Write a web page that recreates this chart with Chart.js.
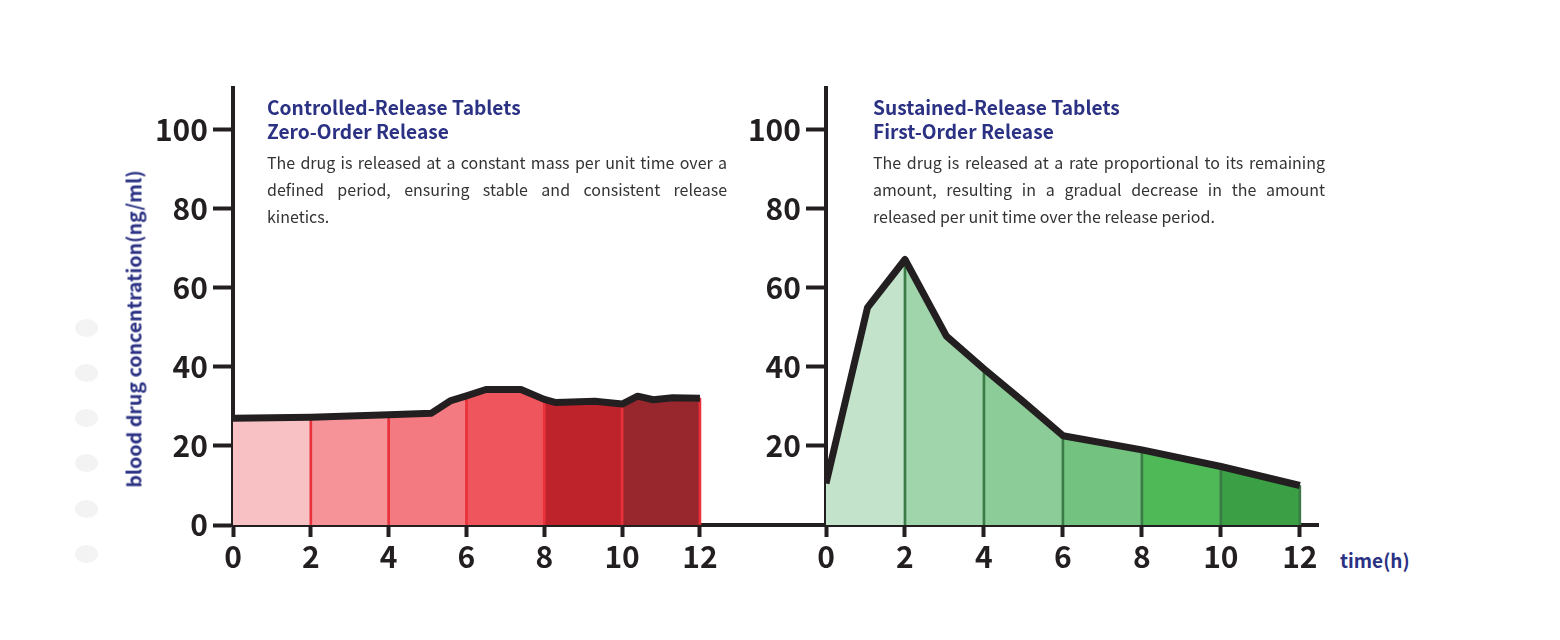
<!DOCTYPE html>
<html>
<head>
<meta charset="utf-8">
<script src="https://cdn.jsdelivr.net/npm/chart.js@4.4.1/dist/chart.umd.min.js"></script>
<style>
  html, body { margin: 0; padding: 0; background: #fff; }
  body { width: 1560px; height: 640px; position: relative; overflow: hidden; font-family: "Noto Sans CJK SC", "Noto Sans", sans-serif; }
  .box { position: absolute; top: 0; height: 640px; }
  #boxA { left: 0; width: 826px; }
  #boxB { left: 700px; width: 640px; }
  .panel { position: absolute; color: #333; z-index: 2; }
  .panel h3 { margin: 0; font-size: 19.2px; line-height: 24px; font-weight: 600; color: #2b3183; }
  .panel p { margin: 6px 0 0; font-size: 16px; line-height: 27px; text-align: justify; }
  #panelA { left: 267px; top: 95px; width: 460px; }
  #panelB { left: 873px; top: 95px; width: 452px; }
  #ytitle { position: absolute; left: 133px; top: 329px; transform: translate(-50%, -50%) rotate(-90deg); white-space: nowrap;
            font-size: 19.6px; font-weight: 700; color: #2b3183; }
  #xtitle { position: absolute; left: 1340px; top: 546px; font-size: 19px; font-weight: 700; color: #2b3183; }
  .dot { position: absolute; left: 75px; width: 23px; height: 18px; border-radius: 50%; background: #f3f3f3; }
</style>
</head>
<body>
<div class="dot" style="top:319px"></div>
<div class="dot" style="top:364px"></div>
<div class="dot" style="top:409px"></div>
<div class="dot" style="top:454px"></div>
<div class="dot" style="top:500px"></div>
<div class="dot" style="top:545px"></div>

<div class="box" id="boxA"><canvas id="chartA"></canvas></div>
<div class="box" id="boxB"><canvas id="chartB"></canvas></div>

<div class="panel" id="panelA">
  <h3>Controlled-Release Tablets<br>Zero-Order Release</h3>
  <p>The drug is released at a constant mass per unit time over a defined period, ensuring stable and consistent release kinetics.</p>
</div>
<div class="panel" id="panelB">
  <h3>Sustained-Release Tablets<br>First-Order Release</h3>
  <p>The drug is released at a rate proportional to its remaining amount, resulting in a gradual decrease in the amount released per unit time over the release period.</p>
</div>
<div id="ytitle">blood drug concentration(ng/ml)</div>
<div id="xtitle">time(h)</div>

<script>
const xTicks = [0, 2, 4, 6, 8, 10, 12];
const yTicksLeft = [0, 20, 40, 60, 80, 100];
const yTicksRight = [20, 40, 60, 80, 100];

// controlled-release (zero order)
const crTime = [0, 2, 4, 5.1, 5.6, 6, 6.5, 7.4, 8, 8.3, 9.3, 10, 10.4, 10.8, 11.3, 12];
const crConc = [27, 27.3, 27.9, 28.3, 31.5, 32.7, 34.3, 34.3, 31.8, 31, 31.3, 30.6, 32.6, 31.7, 32.2, 32.1];
const crFills = ['#f8c1c4', '#f59399', '#f27a80', '#ef555c', '#be232c', '#98272d'];

// sustained-release (first order)
const srTime = [0, 1.05, 2, 3.05, 4, 5, 6, 8, 10, 12];
const srConc = [10.5, 55, 67.2, 47.8, 39.5, 31.2, 22.6, 19, 14.8, 10];
const srFills = ['#c3e4cb', '#a0d5ab', '#8ccc98', '#74c280', '#4fb957', '#3a9f45'];

const INK = '#231f20';
const tickFont = { family: '"Noto Sans CJK SC", "Noto Sans", sans-serif', size: 30, weight: 'bold' };

function makeChart(id, times, conc, fills, divColor, xMax, yTicks, pad) {
    const pts = times.map((t, i) => ({ x: t, y: conc[i] }));
    const dividers = pts.filter(p => p.x > 0 && p.x % 2 === 0);

    return new Chart(document.getElementById(id), {
        type: 'line',
        data: {
            datasets: [
                {
                    data: pts,
                    borderColor: INK,
                    borderWidth: 7,
                    borderJoinStyle: 'round',
                    pointRadius: 0,
                    fill: false,
                    tension: 0,
                    order: 0
                },
                {
                    type: 'bar',
                    data: dividers,
                    backgroundColor: divColor,
                    borderWidth: 0,
                    barThickness: 2,
                    order: 1
                },
                {
                    data: pts,
                    borderWidth: 0,
                    pointRadius: 0,
                    fill: 'origin',
                    backgroundColor: fills[0],
                    tension: 0,
                    order: 2,
                    segment: {
                        backgroundColor: ctx => fills[Math.min(fills.length - 1, Math.floor(times[ctx.p0DataIndex] / 2))]
                    }
                }
            ]
        },
        options: {
            responsive: true,
            maintainAspectRatio: false,
            animation: false,
            events: [],
            layout: { padding: pad },
            plugins: { legend: { display: false }, tooltip: { enabled: false } },
            scales: {
                x: {
                    type: 'linear',
                    min: 0,
                    max: xMax,
                    offset: false,
                    afterBuildTicks: s => { s.ticks = xTicks.map(v => ({ value: v })); },
                    afterFit: s => { s.height = 60; },
                    border: { display: true, width: 4, color: INK },
                    grid: { drawOnChartArea: false, drawTicks: true, tickLength: 12, tickWidth: 4, tickColor: INK, offset: false },
                    ticks: { color: INK, font: tickFont, padding: 2, autoSkip: false, maxRotation: 0 }
                },
                y: {
                    type: 'linear',
                    min: 0,
                    max: 110.6,
                    afterBuildTicks: s => { s.ticks = yTicks.map(v => ({ value: v })); },
                    afterFit: s => { s.width = 100; },
                    border: { display: true, width: 4, color: INK },
                    grid: { drawOnChartArea: false, drawTicks: true, tickLength: 20, tickWidth: 4, tickColor: INK },
                    ticks: { color: INK, font: tickFont, padding: 5 }
                }
            }
        }
    });
}

makeChart('chartA', crTime, crConc, crFills, '#e8313a', 15.24, yTicksLeft, { left: 133, right: 0, top: 88, bottom: 55 });
makeChart('chartB', srTime, srConc, srFills, '#3c7b45', 12.46, yTicksRight, { left: 26, right: 22, top: 88, bottom: 55 });
</script>
</body>
</html>
